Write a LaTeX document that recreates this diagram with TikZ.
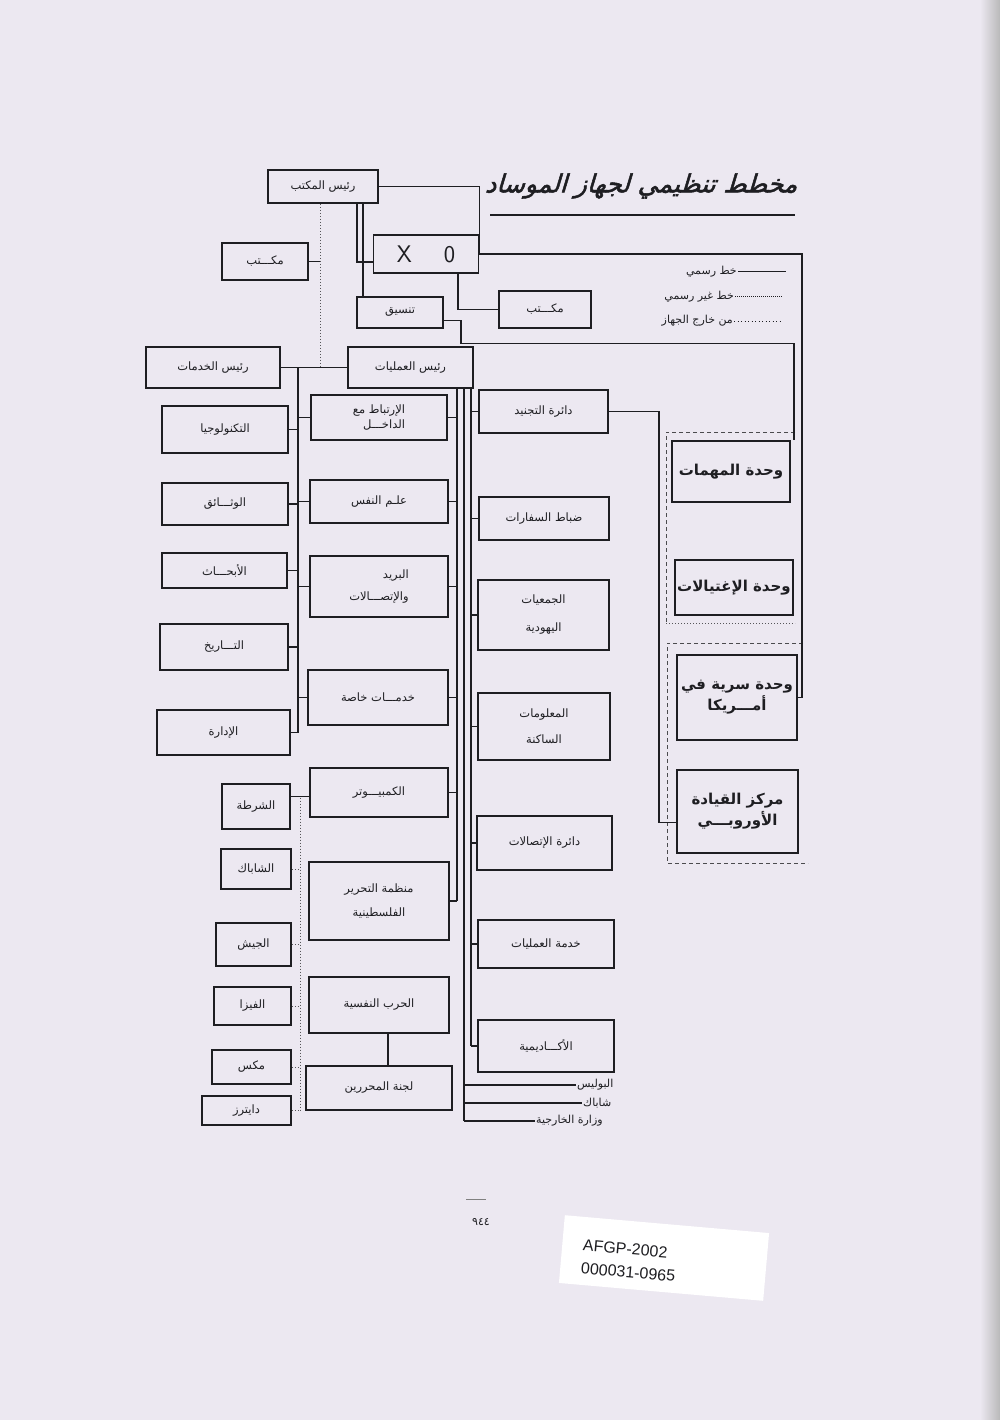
\documentclass[tikz,border=0pt]{standalone}
\usepackage{fontspec}
\usetikzlibrary{calc}
\TeXXeTstate=1
\newfontfamily\arabicfont[Script=Arabic]{DejaVu Sans}
\newfontfamily\titlefont[Script=Arabic,FakeSlant=0.3,FakeBold=2]{DejaVu Sans}
\newfontfamily\stickerfont{Liberation Sans}
\newcommand\AR[1]{{\arabicfont\beginR #1\endR}}
\definecolor{pagebg}{RGB}{236,232,241}
\definecolor{ink}{RGB}{30,30,34}
\begin{document}
\begin{tikzpicture}[x=1pt,y=-1pt,
 bx/.style={draw=ink,line width=1.7pt,inner sep=1pt,align=center,text=ink,font=\fontsize{11.5}{18}\selectfont},
 rbx/.style={bx,align=right},
 bigbx/.style={bx,font=\fontsize{15}{23}\selectfont\bfseries},
 ln/.style={draw=ink,line width=1.5pt},
 dt/.style={draw=ink!75,line width=1pt,dotted},
 dsh/.style={draw=ink!80,line width=1pt,dash pattern=on 4pt off 3pt},
 lbl/.style={text=ink,font=\fontsize{11}{13}\selectfont,inner sep=1pt}]
\useasboundingbox (0,0) rectangle (1000,1420);
\fill[pagebg] (0,0) rectangle (1000,1420);
\shade[left color=pagebg,right color=gray!55] (980,0) rectangle (1000,1420);

% title
\node[text=ink,font=\titlefont\fontsize{25}{30}\selectfont,inner sep=0] (title) at (641,186) {\beginR مخطط تنظيمي لجهاز الموساد\endR};
\draw[ink,line width=2pt] (490,215) -- (795,215);

% top boxes
\node[bx,minimum width=110,minimum height=33] (rm) at (323,186.5) {\AR{رئيس المكتب}};
\node[bx,minimum width=86,minimum height=37] (mk1) at (265,261.5) {\AR{مكـــتب}};
\node[bx,minimum width=105,minimum height=38,font=\fontsize{24}{24}\selectfont\sffamily] (xo) at (426,254) {X\hspace{32pt}0};
\node[bx,minimum width=86,minimum height=31] (tn) at (400,312.5) {\AR{تنسيق}};
\node[bx,minimum width=92,minimum height=37] (mk2) at (545,309.5) {\AR{مكـــتب}};

% legend
\node[lbl,anchor=east] (lg1) at (738,272) {\AR{خط رسمي}};
\node[lbl,anchor=east] (lg2) at (735,297) {\AR{خط غير رسمي}};
\node[lbl,anchor=east] (lg3) at (734,321) {\AR{من خارج الجهاز}};
\coordinate (lg1e) at (786,272);
\coordinate (lg2e) at (783,297);
\coordinate (lg3e) at (783,321);
\draw[ln,line width=1pt] (lg1.east) -- (lg1e);
\draw[ink,line width=1pt,dash pattern=on 1pt off 1pt] (lg2.east) -- (lg2e);
\draw[ink,line width=1pt,dash pattern=on 1pt off 2.5pt] (lg3.east) -- (lg3e);

% heads
\node[bx,minimum width=134,minimum height=41] (rk) at (213,367.5) {\AR{رئيس الخدمات}};
\node[bx,minimum width=125,minimum height=41] (ra) at (410.5,367.5) {\AR{رئيس العمليات}};

% left column
\node[bx,minimum width=126,minimum height=47] (tek) at (225,429.5) {\AR{التكنولوجيا}};
\node[bx,minimum width=126,minimum height=42] (wth) at (225,504) {\AR{الوثـــائق}};
\node[bx,minimum width=125,minimum height=35] (abh) at (224.5,570.5) {\AR{الأبحـــاث}};
\node[bx,minimum width=128,minimum height=46] (tar) at (224,647) {\AR{التـــاريخ}};
\node[bx,minimum width=133,minimum height=45] (idr) at (223.5,732.5) {\AR{الإدارة}};

% middle-left column
\node[rbx,minimum width=136,minimum height=45,font=\fontsize{11.5}{15}\selectfont] (irt) at (379,417.5) {\AR{الإرتباط مع}\\\AR{الداخـــل}};
\node[bx,minimum width=138,minimum height=43] (ilm) at (379,501.5) {\AR{علـم النفس}};
\node[rbx,minimum width=138,minimum height=61,font=\fontsize{11.5}{22}\selectfont] (brd) at (379,586.5) {\AR{البريد}\\\AR{والإتصـــالات}};
\node[bx,minimum width=140,minimum height=55] (khd) at (378,697.5) {\AR{خدمـــات خاصة}};
\node[bx,minimum width=138,minimum height=49] (kmb) at (379,792.5) {\AR{الكمبيـــوتر}};
\node[bx,minimum width=140,minimum height=78,font=\fontsize{11.5}{24}\selectfont] (mnz) at (379,901) {\AR{منظمة التحرير}\\\AR{الفلسطينية}};
\node[bx,minimum width=140,minimum height=56] (hrb) at (379,1005) {\AR{الحرب النفسية}};
\node[bx,minimum width=146,minimum height=44] (ljn) at (379,1088) {\AR{لجنة المحررين}};

% small left boxes
\node[bx,minimum width=68,minimum height=45] (shr) at (256,806.5) {\AR{الشرطة}};
\node[bx,minimum width=70,minimum height=40] (shb) at (256,869) {\AR{الشاباك}};
\node[bx,minimum width=75,minimum height=43] (jsh) at (253.5,944.5) {\AR{الجيش}};
\node[bx,minimum width=77,minimum height=38] (fiz) at (252.5,1006) {\AR{الفيزا}};
\node[bx,minimum width=79,minimum height=34] (mks) at (251.5,1067) {\AR{مكس}};
\node[bx,minimum width=89,minimum height=29] (dyt) at (246.5,1110.5) {\AR{دايترز}};

% middle column
\node[bx,minimum width=129,minimum height=43] (tjn) at (543.5,411.5) {\AR{دائرة التجنيد}};
\node[bx,minimum width=130,minimum height=43] (dbt) at (544,518.5) {\AR{ضباط السفارات}};
\node[bx,minimum width=131,minimum height=70,font=\fontsize{11.5}{28}\selectfont] (jam) at (543.5,615) {\AR{الجمعيات}\\\AR{اليهودية}};
\node[bx,minimum width=132,minimum height=67,font=\fontsize{11.5}{26}\selectfont] (mal) at (544,726.5) {\AR{المعلومات}\\\AR{الساكنة}};
\node[bx,minimum width=135,minimum height=54] (itt) at (544.5,843) {\AR{دائرة الإتصالات}};
\node[bx,minimum width=136,minimum height=48] (khm) at (546,944) {\AR{خدمة العمليات}};
\node[bx,minimum width=136,minimum height=52] (akd) at (546,1046) {\AR{الأكـــاديمية}};

\node[lbl,anchor=west] (pol) at (576,1085) {\AR{البوليس}};
\node[lbl,anchor=west] (shk) at (582,1103) {\AR{شاباك}};
\node[lbl,anchor=west] (wzr) at (535,1121) {\AR{وزارة الخارجية}};

% right column
\node[bigbx,minimum width=118,minimum height=61] (mhm) at (731,471.5) {\AR{وحدة المهمات}};
\node[bigbx,minimum width=118,minimum height=55] (igt) at (734,587.5) {\AR{وحدة الإغتيالات}};
\node[bigbx,minimum width=120,minimum height=85,font=\fontsize{15}{21}\selectfont\bfseries] (amr) at (737,697.5) {\AR{وحدة سرية في}\\\AR{أمـــريكا}};
\node[bigbx,minimum width=121,minimum height=83,font=\fontsize{15}{21}\selectfont\bfseries] (mrk) at (737.5,811.5) {\AR{مركز القيادة}\\\AR{الأوروبـــي}};

% dashed groups
\draw[dsh] (795,432) -- (666,432) -- (666,623);
\draw[dt] (666,623) -- (795,623);
\draw[dsh] (803,643) -- (667,643) -- (667,863) -- (808,863);

% connectors, top
\coordinate (rmD) at ($(rm.south)+(-3,0)$);
\draw[dt] (rmD) -- (rmD |- ra.west);
\draw[ln] (mk1.east) -- (rmD |- mk1.east);
\draw[ln] (rm.east) -| (xo.east);
\coordinate (xoR) at ($(amr.east)+(4,0)$);
\draw[ln] (xo.east) -| (xoR) -- (amr.east);
\coordinate (rmA) at ($(rm.south)+(34,0)$);
\draw[ln] (rmA) |- ($(xo.west)+(0,8)$);
\coordinate (rmB) at ($(rm.south)+(40,0)$);
\draw[ln] (rmB) -- (rmB |- tn.north);
\coordinate (xoB) at ($(xo.south)+(32,0)$);
\draw[ln] (xoB) |- (mk2.west);
\draw[ln] ($(tn.east)+(0,8)$) -- ++(17,0) -- ++(0,23) -| ($(mhm.north east)+(3,0)$);

% heads
\draw[ln] (rk.east) -- (ra.west);
\coordinate (Lv) at ($(rk.east)+(17,0)$);
\draw[ln] (Lv) -- (Lv |- idr.east);
\foreach \b in {tek,wth,abh,tar,idr} {\draw[ln] (\b.east) -- (Lv |- \b.east);}
\foreach \m in {irt,ilm,brd,khd} {\draw[ln] (\m.west) -- (Lv |- \m.west);}

% bundle under ra
\coordinate (V1) at ($(ra.south east)+(-17,0)$);
\coordinate (V2) at ($(ra.south east)+(-10,0)$);
\coordinate (V3) at ($(ra.south east)+(-3,0)$);
\draw[ln] (V1) -- (V1 |- mnz.east);
\foreach \m in {irt,ilm,brd,khd,kmb,mnz} {\draw[ln] (\m.east) -- (V1 |- \m.east);}
\draw[ln] (V2) -- (V2 |- wzr.west);
\foreach \t in {pol,shk,wzr} {\draw[ln] (V2 |- \t.west) -- (\t.west);}
\draw[ln] (V3) -- (V3 |- akd.west);
\foreach \c in {tjn,dbt,jam,mal,itt,khm,akd} {\draw[ln] (V3 |- \c.west) -- (\c.west);}

% other
\draw[ln] (tjn.east) -- ++(50,0) |- ($(mrk.west)+(0,11)$);
\draw[ln] ($(hrb.south)+(9,0)$) -- ($(ljn.north)+(9,0)$);
\coordinate (Ds) at ($(kmb.west)+(0,4)$);
\draw[ln] (Ds) -- (Ds -| shr.east);
\coordinate (Dv) at ($(shr.east)+(10,-9)$);
\draw[dt] (Dv) -- (Dv |- dyt.east);
\foreach \s in {shb,jsh,fiz,mks,dyt} {\draw[dt] (\s.east) -- (Dv |- \s.east);}

% page number and sticker
\draw[gray,line width=0.8pt] (466,1199) -- (486,1199);
\node[text=ink,font=\arabicfont\fontsize{11}{11}\selectfont] (pg) at (481,1222) {٩٤٤};
\fill[white,rotate around={-5:(664,1258)}] (561.5,1224) rectangle (766.5,1292);
\node[rotate=-5,text=ink,font=\stickerfont\fontsize{16}{17}\selectfont,inner sep=0,anchor=west] (st1) at (583,1245) {AFGP-2002};
\node[rotate=-5,text=ink,font=\stickerfont\fontsize{16}{17}\selectfont,inner sep=0,anchor=west] (st2) at (581,1268) {000031-0965};
\end{tikzpicture}
\end{document}
